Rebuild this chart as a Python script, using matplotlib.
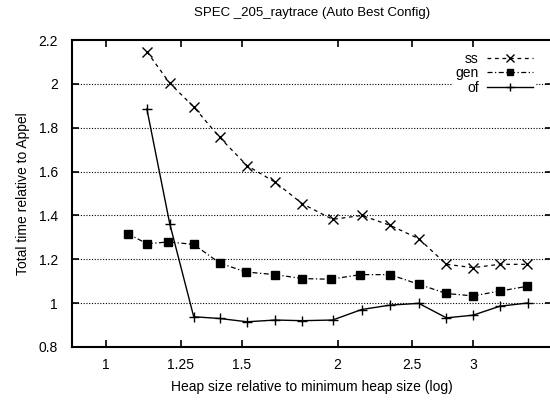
import matplotlib
matplotlib.use("Agg")
import matplotlib.pyplot as plt
from matplotlib.ticker import FixedLocator, FixedFormatter, NullLocator

plt.rcParams['font.family'] = ['Liberation Sans', 'DejaVu Sans']

ss_x = [1.13, 1.21, 1.30, 1.405, 1.525, 1.66, 1.80, 1.97, 2.15, 2.34, 2.55, 2.77, 3.0, 3.25, 3.53]
ss_y = [2.147, 2.003, 1.895, 1.756, 1.627, 1.551, 1.453, 1.382, 1.40, 1.355, 1.294, 1.177, 1.162, 1.177, 1.177]

gen_x = [1.067, 1.13, 1.205, 1.30, 1.405, 1.52, 1.66, 1.80, 1.96, 2.14, 2.34, 2.55, 2.77, 3.0, 3.25, 3.53]
gen_y = [1.317, 1.271, 1.279, 1.268, 1.183, 1.142, 1.130, 1.112, 1.109, 1.130, 1.130, 1.086, 1.044, 1.033, 1.055, 1.077]

of_x = [1.13, 1.21, 1.30, 1.405, 1.525, 1.66, 1.80, 1.97, 2.15, 2.34, 2.55, 2.77, 3.0, 3.25, 3.54]
of_y = [1.885, 1.362, 0.938, 0.930, 0.915, 0.923, 0.920, 0.923, 0.971, 0.991, 0.999, 0.933, 0.945, 0.986, 1.001]

x_ticks = [1, 1.25, 1.5, 2, 2.5, 3]
x_tick_labels = ["1", "1.25", "1.5", "2", "2.5", "3"]
y_ticks = [0.8, 1.0, 1.2, 1.4, 1.6, 1.8, 2.0, 2.2]
y_tick_labels = ["0.8", "1", "1.2", "1.4", "1.6", "1.8", "2", "2.2"]

fig = plt.figure(figsize=(5.5, 4.03), dpi=100)
ax = fig.add_axes([72/550, 1-347/403, 480/550, (347-40)/403])

ax.set_xscale('log')
ax.set_xlim(0.903, 3.80)
ax.set_ylim(0.8, 2.2)

for yv in y_ticks[1:-1]:
    ax.axhline(yv, color='black', lw=0.8, ls=(0, (1, 1.5)), zorder=1)

ax.plot(ss_x, ss_y, color='black', lw=0.9, ls=(0, (3, 3)), marker='x', ms=6.5, mew=1.0, label='ss', zorder=3)
ax.plot(gen_x, gen_y, color='black', lw=0.9, ls=(0, (4, 2, 1, 2)), marker='s', ms=6, label='gen', zorder=3)
ax.plot(of_x, of_y, color='black', lw=1.0, ls='-', marker='+', ms=7.5, mew=1.0, label='of', zorder=3)

ax.xaxis.set_major_locator(FixedLocator(x_ticks))
ax.xaxis.set_major_formatter(FixedFormatter(x_tick_labels))
ax.xaxis.set_minor_locator(NullLocator())
ax.set_yticks(y_ticks)
ax.set_yticklabels(y_tick_labels)

ax.tick_params(axis='both', which='both', direction='in', top=True, right=True,
               length=5, width=1.2, labelsize=10, pad=8)
ax.tick_params(axis='y', pad=10)
for sp in ax.spines.values():
    sp.set_linewidth(1.5)
ax.spines['right'].set_visible(False)

ax.set_xlabel('Heap size relative to minimum heap size (log)', fontsize=10, labelpad=6)
ax.set_ylabel('Total time relative to Appel', fontsize=10, labelpad=6)
ax.set_title('SPEC _205_raytrace (Auto Best Config)', fontsize=9.5, pad=17)

leg = ax.legend(loc='upper right', frameon=True, markerfirst=False, fontsize=10,
                handlelength=3.3, handletextpad=0.6, labelspacing=0.05,
                borderaxespad=0.3, bbox_to_anchor=(0.975, 0.985), facecolor='white',
                edgecolor='none', framealpha=1.0, borderpad=0.2, markerscale=0.8)
for t in leg.get_texts():
    t.set_ha('right')

fig.savefig('out.png', dpi=100)
